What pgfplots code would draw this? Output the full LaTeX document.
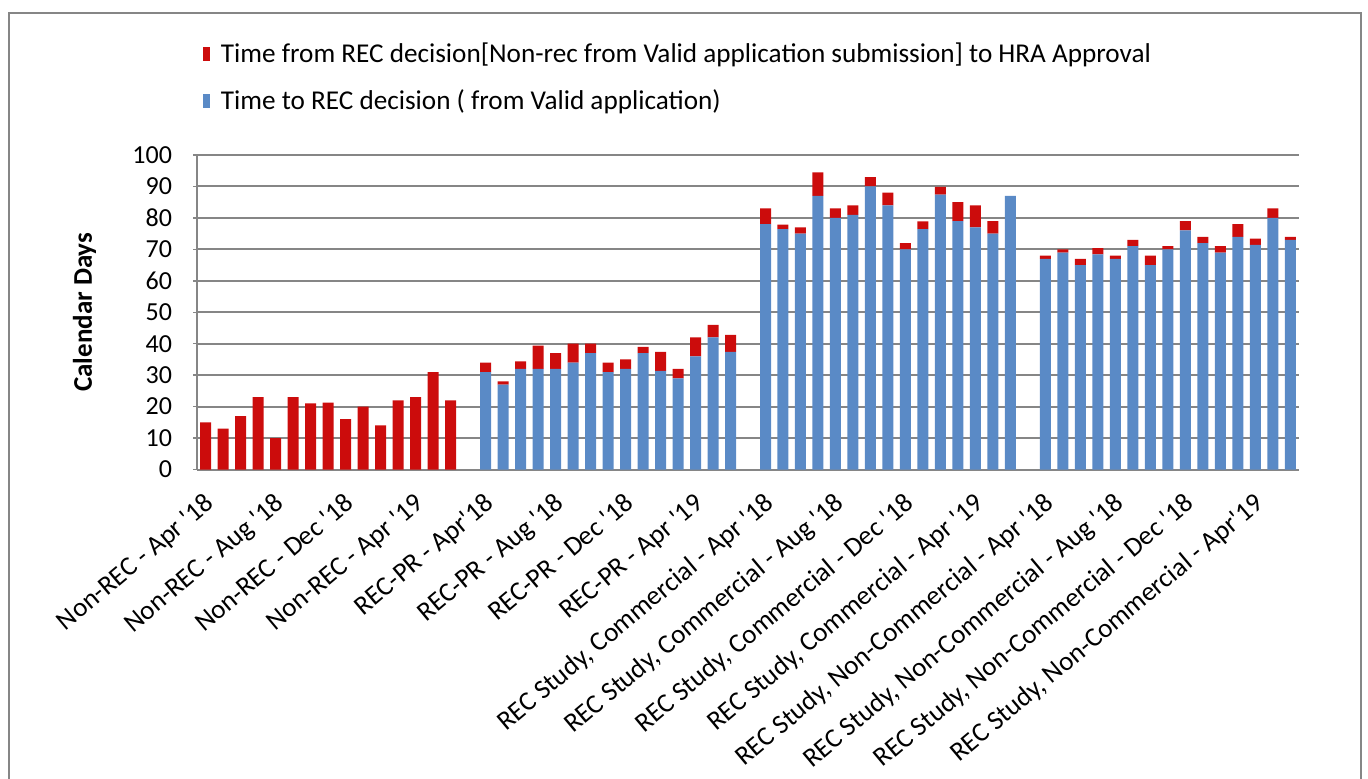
\documentclass[border=0pt]{standalone}
\usepackage{fontspec}
\setmainfont{Carlito}
\usepackage{pgfplots}
\usepackage{pgfplotstable}
\pgfplotsset{compat=1.18}
\definecolor{recred}{RGB}{204,12,12}
\definecolor{recblue}{RGB}{90,138,198}
\definecolor{gridgray}{RGB}{134,134,134}
\newcommand{\q}{\textquotesingle}

% x  blue(time to REC decision)  red(time from REC decision to HRA approval)
\pgfplotstableread{
x blue red
0 0 15
1 0 13
2 0 17
3 0 23
4 0 10
5 0 23
6 0 21
7 0 21.3
8 0 16
9 0 20
10 0 14
11 0 22
12 0 23
13 0 31
14 0 22
16 31 3
17 27 1
18 32 2.4
19 32 7.4
20 32 5
21 34 6
22 37 3
23 31 3
24 32 3
25 37 2
26 31.4 6
27 29 3
28 36 6
29 42 4
30 37.4 5.4
32 78 5
33 76.4 1.5
34 75 2
35 87 7.5
36 80 3
37 81 3
38 90 3
39 84 4
40 70 2
41 76.4 2.5
42 87.4 2.5
43 79 6
44 77 7
45 75 4
46 87 0
48 67 1
49 69 1
50 65 2
51 68.4 2
52 67 1
53 71 2
54 65 3
55 70 1
56 76 3
57 72 2
58 69 2
59 74 4
60 71.4 2
61 80 3
62 73 1
}\datatable

\begin{document}
\begin{tikzpicture}
\useasboundingbox (0,0) rectangle (684pt,389pt);
\draw[gridgray, line width=1pt] (4.5pt,-10pt) -- (4.5pt,382.5pt) -- (680.5pt,382.5pt) -- (680.5pt,-10pt);
\begin{axis}[
  at={(98.5pt,154.25pt)}, anchor=south west,
  width=551pt, height=157.25pt, scale only axis,
  ybar stacked, bar width=5.5pt,
  xmin=-0.5, xmax=62.5,
  ymin=0, ymax=100,
  ytick={0,10,...,100},
  xtick={0,4,...,60},
  xticklabels={Non-REC - Apr \q18, Non-REC - Aug \q18, Non-REC - Dec \q18, Non-REC - Apr \q19,
    REC-PR - Apr\q18, REC-PR - Aug \q18, REC-PR - Dec \q18, REC-PR - Apr \q19,
    {REC Study, Commercial - Apr \q18}, {REC Study, Commercial - Aug \q18}, {REC Study, Commercial - Dec \q18}, {REC Study, Commercial - Apr \q19},
    {REC Study, Non-Commercial - Apr \q18}, {REC Study, Non-Commercial - Aug \q18}, {REC Study, Non-Commercial - Dec \q18}, {REC Study, Non-Commercial - Apr\q19}},
  x tick label style={rotate=40, anchor=north east, inner sep=0pt, font=\fontsize{13.5}{15}\selectfont, yshift=-6pt, xshift=-6.5pt},
  y tick label style={font=\fontsize{13}{15}\selectfont, xshift=-7pt},
  /pgf/number format/assume math mode=true,
  axis x line*=bottom, axis y line*=left,
  axis line style={gridgray, line width=1pt, -},
  ymajorgrids, grid style={gridgray, line width=1pt},
  xtick style={draw=none},
  ytick style={gridgray, line width=0.7pt},
  tick align=outside, major tick length=2pt,
  ylabel={\textbf{Calendar Days}},
  ylabel style={at={(axis description cs:-0.102,0.5)}, anchor=center, font=\fontsize{13.5}{15}\selectfont},
  reverse legend,
  legend style={at={(rel axis cs:0.005,1.37)}, anchor=north west, draw=none, fill=none,
    font=\fontsize{13.6}{15}\selectfont, row sep=8pt, inner sep=0pt},
  legend cell align=left,
  legend image code/.code={\fill[#1] (0pt,-3.5pt) rectangle (3.5pt,3.5pt); \path (7pt,0pt);},
]
\addplot[fill=recblue, draw=none] table[x=x, y=blue] {\datatable};
\addplot[fill=recred, draw=none] table[x=x, y=red] {\datatable};
\legend{Time to REC decision ( from Valid application), Time from REC decision{[}Non-rec from Valid application submission{]} to HRA Approval}
\end{axis}
\end{tikzpicture}
\end{document}
